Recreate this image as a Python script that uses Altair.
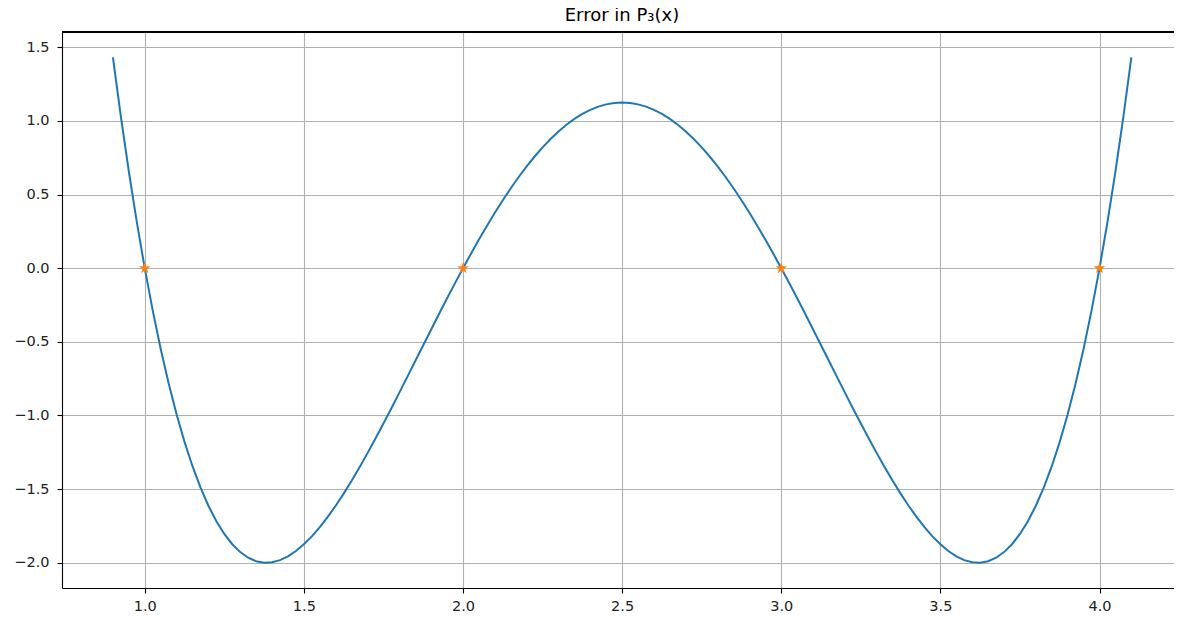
import altair as alt
import pandas as pd

# curve samples
xs = [0.900, 0.925, 0.950, 0.975, 1.000, 1.025, 1.050, 1.075, 1.100, 1.125, 1.150,
      1.175, 1.200, 1.225, 1.250, 1.275, 1.300, 1.325, 1.350, 1.375, 1.400, 1.425,
      1.450, 1.475, 1.500, 1.525, 1.550, 1.575, 1.600, 1.625, 1.650, 1.675, 1.700,
      1.725, 1.750, 1.775, 1.800, 1.825, 1.850, 1.875, 1.900, 1.925, 1.950, 1.975,
      2.000, 2.025, 2.050, 2.075, 2.100, 2.125, 2.150, 2.175, 2.200, 2.225, 2.250,
      2.275, 2.300, 2.325, 2.350, 2.375, 2.400, 2.425, 2.450, 2.475, 2.500, 2.525,
      2.550, 2.575, 2.600, 2.625, 2.650, 2.675, 2.700, 2.725, 2.750, 2.775, 2.800,
      2.825, 2.850, 2.875, 2.900, 2.925, 2.950, 2.975, 3.000, 3.025, 3.050, 3.075,
      3.100, 3.125, 3.150, 3.175, 3.200, 3.225, 3.250, 3.275, 3.300, 3.325, 3.350,
      3.375, 3.400, 3.425, 3.450, 3.475, 3.500, 3.525, 3.550, 3.575, 3.600, 3.625,
      3.650, 3.675, 3.700, 3.725, 3.750, 3.775, 3.800, 3.825, 3.850, 3.875, 3.900,
      3.925, 3.950, 3.975, 4.000, 4.025, 4.050, 4.075, 4.100]
half = [1.4322, 1.02888, 0.6565, 0.31394, 0.0, -0.28644, -0.5465, -0.78125, -0.9918,
        -1.17920, -1.3445, -1.48869, -1.6128, -1.71781, -1.8047, -1.87437, -1.9278,
        -1.96587, -1.9895, -1.99951, -1.9968, -1.98219, -1.9565, -1.92050, -1.875,
        -1.82075, -1.7585, -1.68894, -1.6128, -1.53076, -1.4435, -1.35162, -1.2558,
        -1.15662, -1.0547, -0.95056, -0.8448, -0.73794, -0.6305, -0.52295, -0.4158,
        -0.30950, -0.2045, -0.10119, 0.0, 0.09869, 0.1945, 0.28713, 0.3762, 0.46143,
        0.5425, 0.61919, 0.6912, 0.75831, 0.8203, 0.87700, 0.9282, 0.97375, 1.0135,
        1.04736, 1.0752, 1.09694, 1.1125, 1.12188]
ys = half + [1.125] + half[::-1]

node_x = [1.0, 2.0, 3.0, 4.0]
node_y = [0.0, 0.0, 0.0, 0.0]

x_ticks = [1.0, 1.5, 2.0, 2.5, 3.0, 3.5, 4.0]
y_ticks = [-2.0, -1.5, -1.0, -0.5, 0.0, 0.5, 1.0, 1.5]

title_text = ["Error in P₃(x)"]

curve = pd.DataFrame({"x": xs, "y": ys})
nodes = pd.DataFrame({"x": node_x, "y": node_y})
titles = pd.DataFrame({"t": title_text})

FONT = "DejaVu Sans"
xscale = alt.Scale(domain=[0.74, 4.234], nice=False, zero=False)
yscale = alt.Scale(domain=[-2.1716, 1.6038], nice=False, zero=False)

common = dict(format=".1f", title=None, grid=True,
              gridColor="#b0b0b0", gridWidth=1.1, domainColor="black",
              domainWidth=1.1, tickColor="black", tickSize=5, tickWidth=1.1,
              labelFont=FONT, labelFontSize=14.5, labelColor="#222222")
xaxis = alt.Axis(values=x_ticks, labelPadding=6, **common)
yaxis = alt.Axis(values=y_ticks, labelPadding=8, **common)

line = alt.Chart(curve).mark_line(color="#1f77b4", strokeWidth=2, clip=True).encode(
    x=alt.X("x:Q", scale=xscale, axis=xaxis),
    y=alt.Y("y:Q", scale=yscale, axis=yaxis),
)

star = ("M0,-1L0.225,-0.309L0.951,-0.309L0.363,0.118L0.588,0.809L0,0.382"
        "L-0.588,0.809L-0.363,0.118L-0.951,-0.309L-0.225,-0.309Z")
pts = alt.Chart(nodes).mark_point(shape=star, filled=True, color="#ff7f0e",
                                   opacity=1, size=150).encode(
    x=alt.X("x:Q", scale=xscale),
    y=alt.Y("y:Q", scale=yscale),
)

# top spine
top = alt.Chart(curve).mark_rule(color="black", strokeWidth=1.1).encode(
    x=alt.value(0), x2=alt.value(1120), y=alt.value(0)
)

title = alt.Chart(titles).mark_text(font=FONT, fontSize=18, color="black",
                                    align="center", baseline="alphabetic").encode(
    text="t:N", x=alt.value(560), y=alt.value(-11)
)

chart = alt.layer(line, pts, top, title).properties(
    width=1112, height=556,
    padding={"left": 54, "top": 24, "right": 0, "bottom": 30},
    autosize=alt.AutoSizeParams(type="none"),
).configure_view(stroke=None).configure(background="white")

chart.save("out.html", embed_options={"renderer": "svg", "actions": False})
